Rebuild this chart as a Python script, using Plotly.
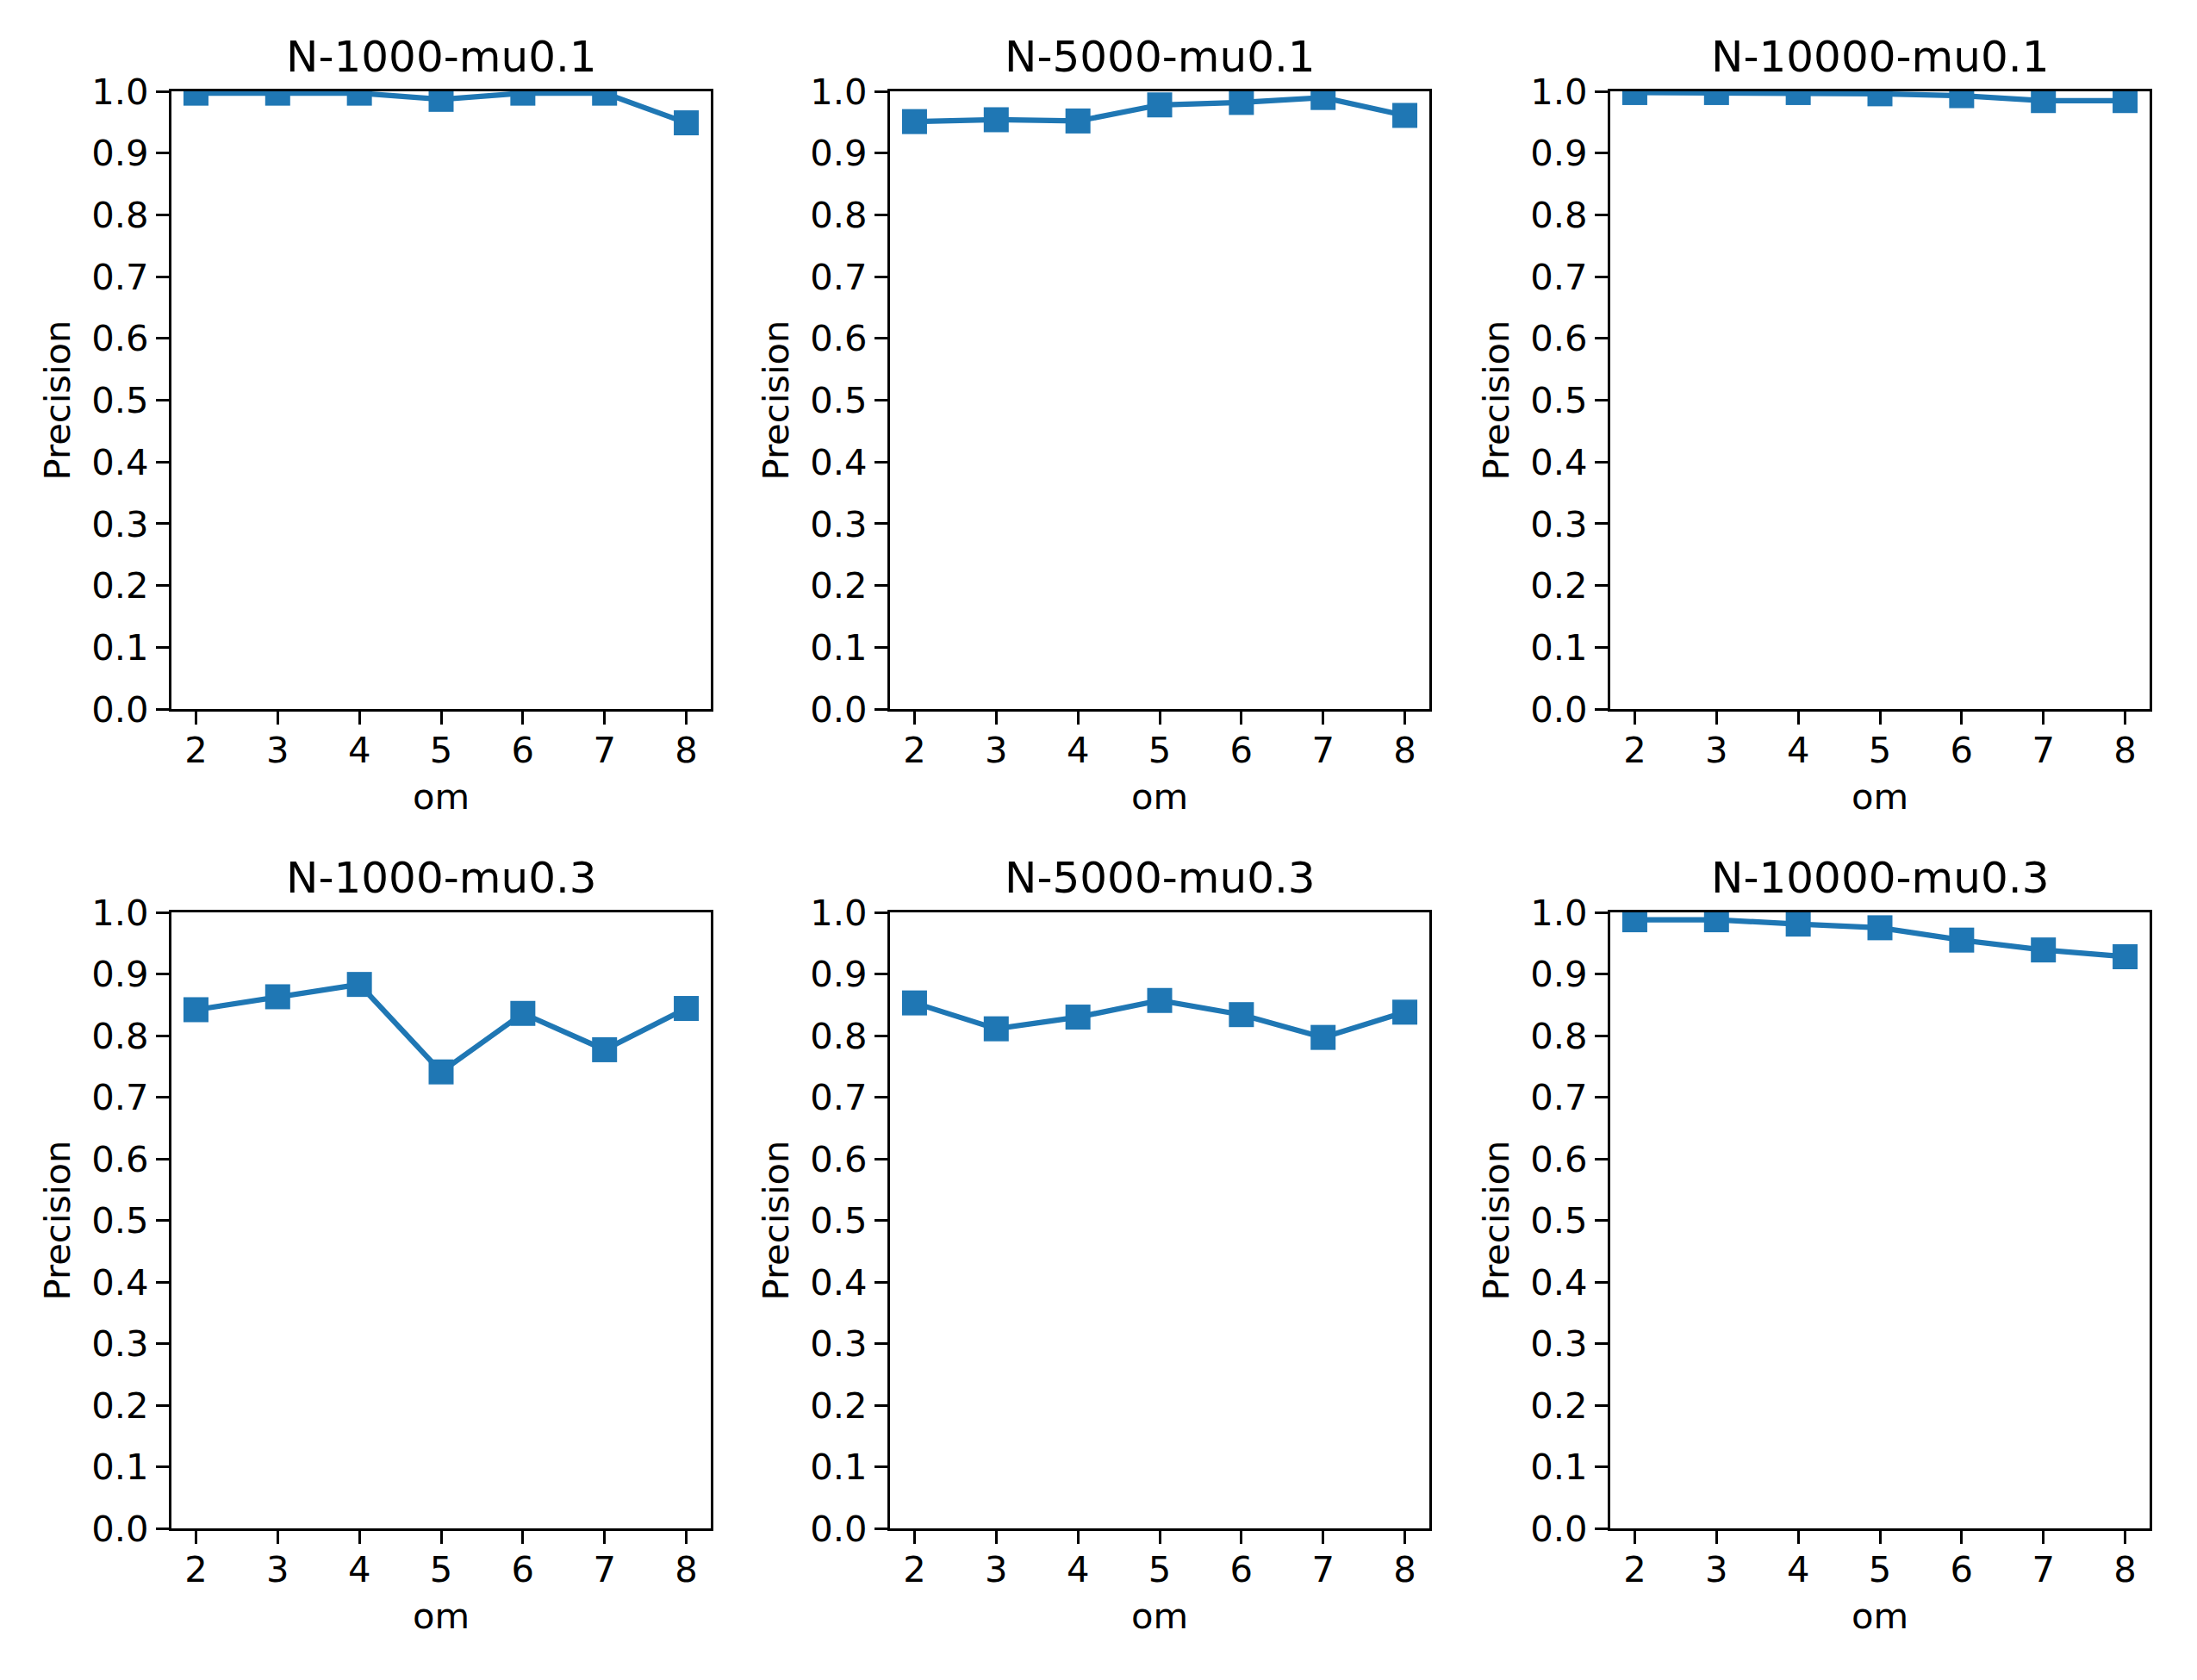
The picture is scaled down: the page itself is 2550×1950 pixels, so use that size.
import plotly.graph_objects as go

om = [2, 3, 4, 5, 6, 7, 8]
titles = ["N-1000-mu0.1", "N-5000-mu0.1", "N-10000-mu0.1",
          "N-1000-mu0.3", "N-5000-mu0.3", "N-10000-mu0.3"]
p_1000_mu01 = [0.997, 0.997, 0.997, 0.987, 0.997, 0.997, 0.949]
p_5000_mu01 = [0.951, 0.954, 0.952, 0.978, 0.982, 0.990, 0.961]
p_10000_mu01 = [0.998, 0.998, 0.998, 0.996, 0.993, 0.985, 0.985]
p_1000_mu03 = [0.842, 0.863, 0.883, 0.741, 0.836, 0.777, 0.844]
p_5000_mu03 = [0.853, 0.811, 0.830, 0.857, 0.834, 0.797, 0.838]
p_10000_mu03 = [0.988, 0.988, 0.981, 0.975, 0.955, 0.939, 0.928]
series = [p_1000_mu01, p_5000_mu01, p_10000_mu01,
          p_1000_mu03, p_5000_mu03, p_10000_mu03]
y_ticks = [0.0, 0.1, 0.2, 0.3, 0.4, 0.5, 0.6, 0.7, 0.8, 0.9, 1.0]

W, H = 2550, 1950
col_px = [(199, 825), (1033, 1659), (1869, 2495)]
row_px = [(106, 823), (1059, 1774)]
BLUE = "#1f77b4"
FONT = "DejaVu Sans"
TICK_FS = 41.7
TITLE_FS = 50

fig = go.Figure()
layout = dict(width=W, height=H, margin=dict(l=0, r=0, t=0, b=0, autoexpand=False),
              paper_bgcolor="white", plot_bgcolor="white", showlegend=False,
              font=dict(family=FONT, color="black", size=TICK_FS))
annotations = []
for i, (title, vals) in enumerate(zip(titles, series)):
    r, c = divmod(i, 3)
    idx = "" if i == 0 else str(i + 1)
    xd = [col_px[c][0] / W, col_px[c][1] / W]
    yd = [1 - row_px[r][1] / H, 1 - row_px[r][0] / H]
    fig.add_trace(go.Scatter(
        x=om, y=vals, mode="lines+markers",
        line=dict(color=BLUE, width=6.25),
        marker=dict(symbol="square", size=29, color=BLUE, line=dict(width=0)),
        xaxis="x" + idx, yaxis="y" + idx, cliponaxis=True))
    axcommon = dict(showline=True, mirror=True, linecolor="black", linewidth=3.3,
                    ticks="outside", ticklen=15, tickwidth=3.3, tickcolor="black",
                    showgrid=False, zeroline=False, automargin=False,
                    tickfont=dict(family=FONT, size=TICK_FS, color="black"))
    layout["xaxis" + idx] = dict(
        domain=xd, range=[1.7, 8.3], tickmode="array", tickvals=om,
        ticktext=[str(v) for v in om], anchor="y" + idx, ticklabelstandoff=-6,
        title=dict(text="om", font=dict(family=FONT, size=TICK_FS), standoff=16),
        **axcommon)
    layout["yaxis" + idx] = dict(
        domain=yd, range=[0, 1], tickmode="array", tickvals=y_ticks,
        ticktext=["%.1f" % v for v in y_ticks], anchor="x" + idx,
        title=dict(text="Precision", font=dict(family=FONT, size=TICK_FS), standoff=12),
        **axcommon)
    annotations.append(dict(
        text=title, xref="paper", yref="paper", x=(xd[0] + xd[1]) / 2, y=yd[1],
        xanchor="center", yanchor="bottom", yshift=9, showarrow=False,
        font=dict(family=FONT, size=TITLE_FS, color="black")))
layout["annotations"] = annotations
fig.update_layout(**layout)

fig.write_html("out.html", config={"displayModeBar": False},
               post_script="document.body.style.margin='0';document.body.style.overflow='hidden';")
